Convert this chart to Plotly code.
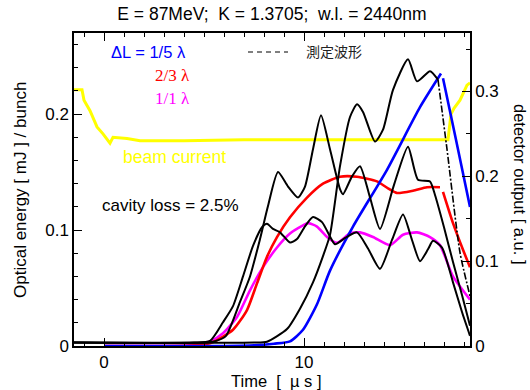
import plotly.graph_objects as go

# ---------------- data ----------------
# measured detector output (right axis, a.u.)
a_t = [-1.5, 4.5, 5.3, 5.95, 6.45, 6.95, 7.45, 7.9, 8.15, 8.45, 8.8, 9.3, 9.65, 10.05, 10.45, 10.9,
       11.3, 11.55, 12.1, 12.65, 13.2, 13.8, 14.4, 14.95, 15.4, 15.8, 16.2, 16.45, 16.9, 17.45, 17.9, 18.3]
a_r = [0.004, 0.004, 0.006, 0.028, 0.047, 0.082, 0.118, 0.140, 0.144, 0.138, 0.134, 0.122, 0.126, 0.141, 0.152, 0.146,
       0.129, 0.120, 0.128, 0.134, 0.115, 0.091, 0.125, 0.155, 0.125, 0.100, 0.114, 0.124, 0.116, 0.075, 0.040, 0.012]

b_t = [-1.5, 5.0, 5.6, 6.1, 6.8, 7.3, 7.8, 8.2, 8.7, 9.2, 9.7, 10.05, 10.45, 10.85, 11.3, 11.8, 11.95,
       12.4, 12.8, 13.3, 13.8, 14.5, 15.2, 15.7, 16.3, 16.55, 17.0, 17.45, 17.9, 18.3]
b_r = [0.004, 0.004, 0.006, 0.012, 0.052, 0.082, 0.126, 0.165, 0.205, 0.188, 0.175, 0.188, 0.232, 0.272, 0.232, 0.185, 0.179,
       0.200, 0.212, 0.175, 0.138, 0.190, 0.235, 0.196, 0.194, 0.178, 0.140, 0.099, 0.060, 0.024]

c_t = [-1.5, 7.5, 8.15, 9.15, 9.8, 10.45, 10.95, 11.3, 11.8, 12.3, 12.65, 12.95, 13.55, 13.95, 14.45,
       15.2, 15.65, 16.3, 16.7]
c_r = [0.004, 0.004, 0.005, 0.020, 0.044, 0.075, 0.106, 0.131, 0.212, 0.270, 0.285, 0.276, 0.241, 0.255, 0.302,
       0.338, 0.312, 0.324, 0.314]
c_fall_t = [16.7, 17.15, 17.8, 18.3]
c_fall_r = [0.314, 0.232, 0.110, 0.059]

# simulations (left axis, mJ / bunch); None = break in the curve
blue_t = [0, 6, 7.5, 8.5, 9.3, 9.95, 10.65, 11.3, 12.45, 14.15, 15.8, 16.85, 16.9, 16.95, 17.6, 18.3]
blue_e = [0, 0, 0.0005, 0.002, 0.004, 0.014, 0.036, 0.065, 0.103, 0.152, 0.206, 0.235, None, 0.231, 0.178, 0.120]

red_t = [0, 4.5, 5.4, 6.45, 7.15, 7.65, 8.15, 8.65, 9.3, 10.15, 10.95, 11.8, 12.65, 13.65, 14.2, 14.65,
         15.45, 16.15, 16.8, 16.9, 16.95, 17.45, 17.95, 18.3]
red_e = [0, 0.0005, 0.003, 0.014, 0.031, 0.054, 0.077, 0.094, 0.111, 0.128, 0.140, 0.146, 0.146, 0.142, 0.136, 0.132,
         0.134, 0.137, 0.137, None, 0.133, 0.106, 0.083, 0.068]

mag_t = [0, 4.2, 5.3, 5.95, 6.65, 7.3, 7.95, 8.65, 9.3, 9.95, 10.2, 10.65, 11.15, 11.65, 12.3, 12.8,
         13.45, 14.3, 14.95, 15.65, 16.3, 16.8, 17.45, 18.3]
mag_e = [0, 0.0005, 0.004, 0.011, 0.025, 0.048, 0.068, 0.085, 0.097, 0.104, 0.106, 0.103, 0.094, 0.089, 0.097, 0.098,
         0.094, 0.087, 0.096, 0.098, 0.094, 0.087, 0.060, 0.040]

# beam current (drawn on left scale)
beam_t = [-1.5, -1.1, -1.0, -0.7, -0.35, -0.05, 0.3, 0.45, 1.15, 1.8, 4, 7, 10, 13, 16, 17.2,
          17.35, 17.5, 17.8, 18.15, 18.3]
beam_v = [0.221, 0.221, 0.212, 0.203, 0.189, 0.183, 0.175, 0.180, 0.179, 0.177, 0.177, 0.178, 0.178, 0.178, 0.178, 0.178,
          0.200, 0.205, 0.212, 0.225, 0.227]

title_text = "E = 87MeV;  K = 1.3705;  w.l. = 2440nm"

SANS = "Liberation Sans, Arial, Helvetica, sans-serif"
SERIF = "Liberation Serif, Times New Roman, serif"

W, H = 530, 390
L_M, R_M, T_M, B_M = 74, 60, 33, 44
PW, PH = W - L_M - R_M, H - T_M - B_M


def px2paper(px, py):
    return (px - L_M) / PW, (H - B_M - py) / PH


fig = go.Figure()

# beam current
fig.add_trace(go.Scatter(x=beam_t, y=beam_v, mode="lines", line=dict(color="#ffff00", width=3),
                         showlegend=False, yaxis="y"))

# measured waveforms
for tt, rr in [(a_t, a_r), (b_t, b_r), (c_t, c_r)]:
    fig.add_trace(go.Scatter(x=tt, y=rr, mode="lines",
                             line=dict(color="black", width=2, shape="spline", smoothing=0.6),
                             showlegend=False, yaxis="y2"))
fig.add_trace(go.Scatter(x=c_fall_t, y=c_fall_r, mode="lines",
                         line=dict(color="black", width=1.6, dash="7px,2px,2px,2px", shape="spline", smoothing=0.6),
                         showlegend=False, yaxis="y2"))

# simulations
for tt, ee, col in [(mag_t, mag_e, "#ff00ff"), (red_t, red_e, "#ff0000"), (blue_t, blue_e, "#0000ff")]:
    fig.add_trace(go.Scatter(x=tt, y=ee, mode="lines", connectgaps=False,
                             line=dict(color=col, width=2.6, shape="spline", smoothing=0.6),
                             showlegend=False, yaxis="y"))

axis_common = dict(showline=True, linecolor="black", linewidth=1.5, ticks="inside", tickcolor="black",
                   tickwidth=1, showgrid=False, zeroline=False,
                   tickfont=dict(family=SANS, size=17, color="black"))

fig.update_layout(
    width=W, height=H,
    margin=dict(l=L_M, r=R_M, t=T_M, b=B_M),
    paper_bgcolor="white", plot_bgcolor="white",
    title=dict(text=title_text, x=0.513, xanchor="center", y=0.964, yanchor="middle",
               font=dict(family=SANS, size=17.5, color="black")),
    xaxis=dict(range=[-1.5, 18.3], dtick=10, tick0=0, ticklen=8, mirror="ticks",
               minor=dict(dtick=1, ticklen=4, ticks="inside", tickcolor="black"),
               **axis_common),
    yaxis=dict(range=[0, 0.27], dtick=0.1, ticklen=8, tickformat="~g",
               minor=dict(dtick=0.02, ticklen=4, ticks="inside", tickcolor="black"),
               **axis_common),
    yaxis2=dict(range=[0, 0.369], dtick=0.1, ticklen=8, overlaying="y", side="right", tickformat="~g",
                minor=dict(dtick=0.05, ticklen=4, ticks="inside", tickcolor="black"),
                **axis_common),
    showlegend=False,
)

texts = [
    ("Optical energy [ mJ ] / bunch", 20, 190, -90, SANS, 17, "black"),
    ("detector output [ a.u. ]", 520, 184, 90, SANS, 16.5, "black"),
    ("Time  [  \u00b5 s ]", 276, 381, 0, SANS, 16.5, "black"),
    ("\u0394L = 1/5 \u03bb", 148, 52, 0, SANS, 16.5, "#0000ff"),
    ("2/3 \u03bb", 172, 75, 0, SERIF, 17, "#ff0000"),
    ("1/1 \u03bb", 172, 98, 0, SERIF, 17, "#ff00ff"),
    ("測定波形", 334, 51, 0, "Noto Sans CJK JP", 14, "#222222"),
    ("beam current", 174, 157, 0, SANS, 17.5, "#ffff00"),
    ("cavity loss = 2.5%", 170, 205, 0, SANS, 17, "black"),
]
annotations = []
for txt, px, py, ang, fam, sz, col in texts:
    fx, fy = px2paper(px, py)
    annotations.append(dict(text=txt, x=fx, y=fy, xref="paper", yref="paper", textangle=ang,
                            xanchor="center", yanchor="middle", showarrow=False,
                            font=dict(family=fam, size=sz, color=col)))
fig.update_layout(annotations=annotations)

# dashed legend sample for the measured waveforms
x0, y0 = px2paper(248, 52)
x1, _ = px2paper(288, 52)
fig.add_shape(type="line", xref="paper", yref="paper", x0=x0, x1=x1, y0=y0, y1=y0,
              line=dict(color="black", width=1.2, dash="5px,4px"))

fig.write_html("out.html")
